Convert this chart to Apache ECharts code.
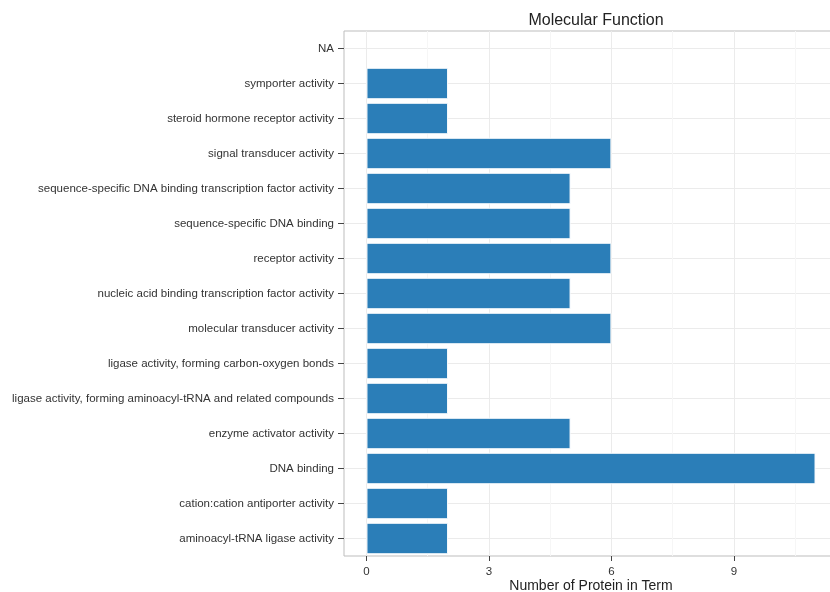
<!DOCTYPE html>
<html>
<head>
<meta charset="utf-8">
<script src="https://cdn.jsdelivr.net/npm/echarts@6/dist/echarts.min.js"></script>
<style>html,body{margin:0;padding:0;background:#fff;}#c{width:830px;height:592px;}</style>
</head>
<body>
<div id="c"></div>
<script>
var categories = [
  "aminoacyl-tRNA ligase activity",
  "cation:cation antiporter activity",
  "DNA binding",
  "enzyme activator activity",
  "ligase activity, forming aminoacyl-tRNA and related compounds",
  "ligase activity, forming carbon-oxygen bonds",
  "molecular transducer activity",
  "nucleic acid binding transcription factor activity",
  "receptor activity",
  "sequence-specific DNA binding",
  "sequence-specific DNA binding transcription factor activity",
  "signal transducer activity",
  "steroid hormone receptor activity",
  "symporter activity",
  "NA"
];
var counts = [2, 2, 11, 5, 2, 2, 6, 5, 6, 5, 5, 6, 2, 2, null];
var xTicks = [0, 3, 6, 9];
var xMinor = [1.5, 4.5, 7.5, 10.5];
var xMin = -0.55, xMax = 11.55;

var chart = echarts.init(document.getElementById('c'), null, {renderer: 'canvas'});
var font = 'Liberation Sans, Arial, Helvetica, sans-serif';
chart.setOption({
  animation: false,
  backgroundColor: '#ffffff',
  title: {
    text: 'Molecular Function',
    left: 591, top: 8, textAlign: 'center',
    textStyle: {fontFamily: font, fontSize: 16, fontWeight: 'normal', color: '#222'}
  },
  grid: {left: 344, top: 31, width: 494, height: 525, show: true, borderColor: '#bdbdbd', borderWidth: 1,
         containLabel: false, outerBoundsMode: 'none'},
  xAxis: [{
    type: 'value', min: xMin, max: xMax,
    name: 'Number of Protein in Term', nameLocation: 'middle', nameGap: 23, nameMoveOverlap: false,
    nameTextStyle: {fontFamily: font, fontSize: 14, color: '#222'},
    axisLine: {show: false, onZero: false},
    axisTick: {show: true, customValues: xTicks, length: 5, lineStyle: {color: '#444'}},
    axisLabel: {customValues: xTicks, fontFamily: font, fontSize: 11.5, color: '#333', margin: 10},
    splitLine: {show: true, lineStyle: {color: '#ebebeb', width: 1}}
  }, {
    type: 'value', min: xMin, max: xMax, position: 'bottom',
    axisLine: {show: false, onZero: false},
    axisTick: {show: false, customValues: xMinor},
    axisLabel: {show: false, customValues: xMinor},
    splitLine: {show: true, lineStyle: {color: '#f6f6f6', width: 1}}
  }],
  yAxis: {
    type: 'category', data: categories,
    axisLine: {show: false, onZero: false},
    axisTick: {show: true, alignWithLabel: true, length: 6, lineStyle: {color: '#444'}},
    axisLabel: {fontFamily: font, fontSize: 11.5, color: '#333', margin: 10},
    splitLine: {show: true, alignWithLabel: true, lineStyle: {color: '#ebebeb', width: 1}}
  },
  series: [{
    type: 'bar', data: counts, xAxisIndex: 0,
    barCategoryGap: '10%',
    itemStyle: {color: '#2b7eb8', borderColor: '#ffffff', borderWidth: 1}
  }]
});
</script>
</body>
</html>
